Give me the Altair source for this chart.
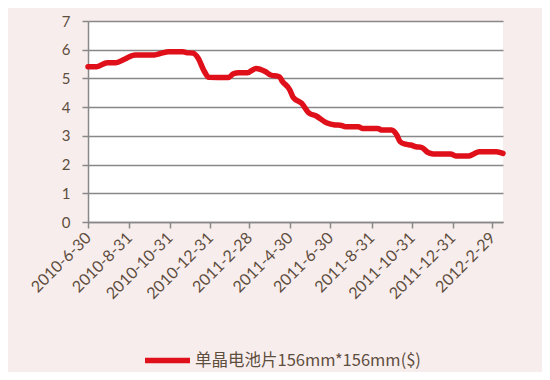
import altair as alt
import pandas as pd

series_name = "单晶电池片156mm*156mm($)"

dates = [
    "2010-06-30", "2010-07-13", "2010-07-29", "2010-08-11", "2010-08-24",
    "2010-09-09", "2010-10-08", "2010-10-19", "2010-10-29", "2010-11-20",
    "2010-11-25", "2010-12-05", "2010-12-13", "2010-12-21", "2010-12-29",
    "2011-01-27", "2011-02-04", "2011-02-12", "2011-02-25", "2011-03-10",
    "2011-03-24", "2011-04-01", "2011-04-14", "2011-04-19", "2011-04-30",
    "2011-05-05", "2011-05-18", "2011-05-29", "2011-06-08", "2011-06-24",
    "2011-07-07", "2011-07-15", "2011-07-23", "2011-08-11", "2011-08-18",
    "2011-09-09", "2011-09-16", "2011-09-30", "2011-10-08", "2011-10-13",
    "2011-10-21", "2011-10-29", "2011-11-06", "2011-11-14", "2011-11-24",
    "2011-12-02", "2011-12-28", "2012-01-05", "2012-01-24", "2012-02-01",
    "2012-02-09", "2012-03-06", "2012-03-16",
]
prices = [
    5.41, 5.41, 5.55, 5.55, 5.67,
    5.82, 5.82, 5.88, 5.93, 5.93,
    5.90, 5.88, 5.70, 5.30, 5.04,
    5.03, 5.16, 5.20, 5.20, 5.35,
    5.24, 5.12, 5.06, 4.89, 4.60,
    4.34, 4.13, 3.79, 3.70, 3.46,
    3.38, 3.37, 3.32, 3.32, 3.26,
    3.26, 3.20, 3.20, 3.03, 2.80,
    2.71, 2.68, 2.62, 2.60, 2.42,
    2.37, 2.37, 2.30, 2.30, 2.37,
    2.45, 2.45, 2.39,
]
tick_dates = [
    (2010, 6, 30), (2010, 8, 31), (2010, 10, 31), (2010, 12, 31),
    (2011, 2, 28), (2011, 4, 30), (2011, 6, 30), (2011, 8, 31),
    (2011, 10, 31), (2011, 12, 31), (2012, 2, 29),
]
y_ticks = [0, 1, 2, 3, 4, 5, 6, 7]

df = pd.DataFrame({"date": dates, "price": prices, "series": series_name})

text_color = "#5E4E3E"
grid_color = "#888888"

chart = (
    alt.Chart(df)
    .mark_line(strokeWidth=5.5, interpolate="monotone", strokeCap="round")
    .encode(
        x=alt.X(
            "date:T",
            scale=alt.Scale(
                type="utc",
                domain=[
                    alt.DateTime(year=2010, month=6, date=30, utc=True),
                    alt.DateTime(year=2012, month=3, date=16, utc=True),
                ],
            ),
            axis=alt.Axis(
                title=None,
                values=[alt.DateTime(year=y, month=m, date=d, utc=True) for (y, m, d) in tick_dates],
                format="%Y-%-m-%-d",
                labelAngle=-45,
                labelAlign="right",
                labelBaseline="middle",
                labelFontSize=16,
                labelFont="Lato",
                labelColor=text_color,
                grid=False,
                tickColor=grid_color,
                tickSize=6,
                tickWidth=1.5,
                domainColor=grid_color,
                domainWidth=1.5,
                labelPadding=7,
                labelOverlap=False,
                labelBound=False,
            ),
        ),
        y=alt.Y(
            "price:Q",
            scale=alt.Scale(domain=[0, 7], nice=False),
            axis=alt.Axis(
                title=None,
                values=y_ticks,
                labelFontSize=15,
                labelFont="Lato",
                labelColor=text_color,
                grid=True,
                gridColor=grid_color,
                gridWidth=1.5,
                tickColor=grid_color,
                tickSize=6,
                tickWidth=1.5,
                domainColor=grid_color,
                domainWidth=1.5,
                labelPadding=12,
            ),
        ),
        color=alt.Color(
            "series:N",
            scale=alt.Scale(domain=[series_name], range=["#E0101A"]),
            legend=alt.Legend(
                title=None,
                orient="none",
                legendX=54,
                legendY=314,
                symbolType="stroke",
                symbolSize=2025,
                symbolStrokeWidth=5.5,
                labelFont="Noto Sans CJK SC",
                labelFontSize=16.5,
                labelColor=text_color,
                labelOffset=2,
                labelLimit=0,
            ),
        ),
    )
    .properties(
        width=415,
        height=201,
        autosize=alt.AutoSizeParams(type="none"),
        padding={"left": 80, "top": 13, "right": 39, "bottom": 150},
        background="#F8EDED",
    )
    .configure_view(fill="white", stroke=None)
)

chart.save("out.html", embed_options={"renderer": "svg", "actions": False})
